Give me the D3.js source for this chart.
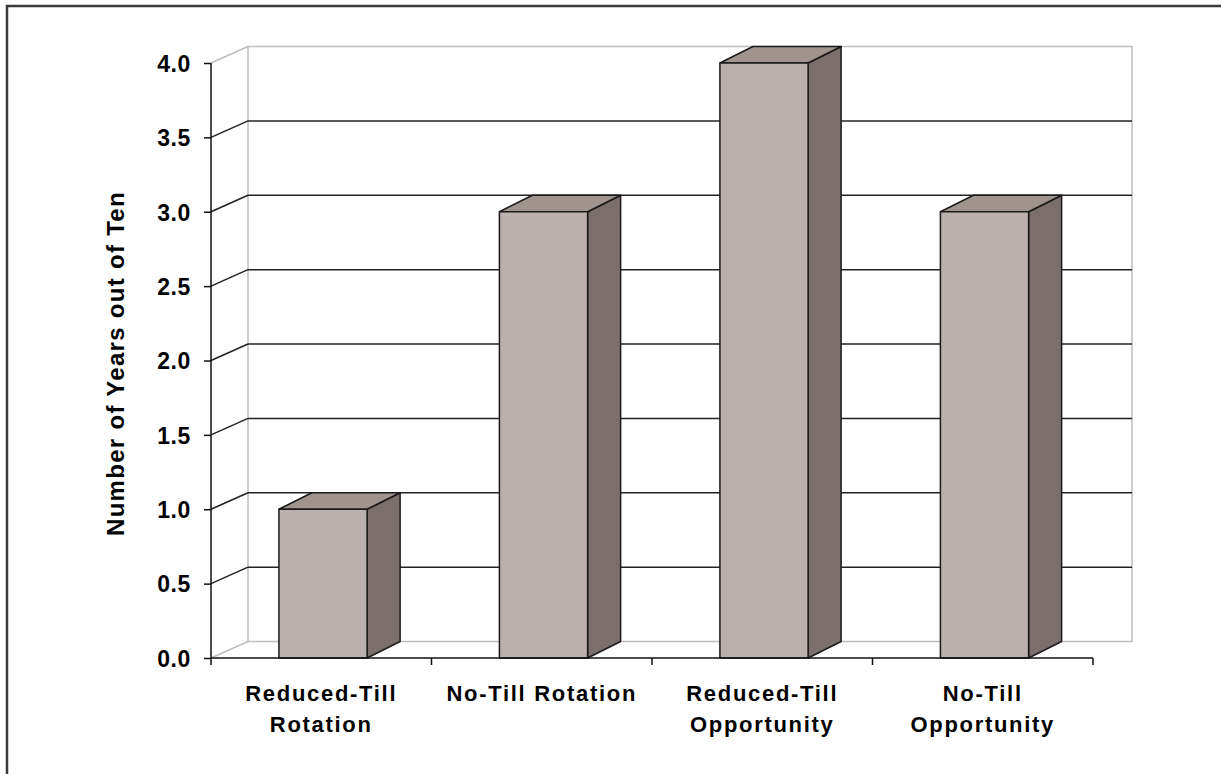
<!DOCTYPE html>
<html><head><meta charset="utf-8">
<script src="https://cdn.jsdelivr.net/npm/d3@7"></script>
<style>body{margin:0;background:#fff}svg{display:block}text{font-family:"Liberation Sans",Arial,sans-serif;font-weight:bold;fill:#000}</style>
</head><body>
<script>
const categories = ["Reduced-Till Rotation", "No-Till Rotation", "Reduced-Till Opportunity", "No-Till Opportunity"];
const categoryLines = [["Reduced-Till", "Rotation"], ["No-Till Rotation"], ["Reduced-Till", "Opportunity"], ["No-Till", "Opportunity"]];
const values = [1, 3, 4, 3];
const yTicks = [0, 0.5, 1, 1.5, 2, 2.5, 3, 3.5, 4];
const yTitle = "Number of Years out of Ten";

const W = 1221, H = 774;
const svg = d3.select("body").append("svg").attr("width", W).attr("height", H);

// outer frame
svg.append("rect").attr("x", 7).attr("y", 6).attr("width", 1240).attr("height", 800)
  .attr("fill", "none").attr("stroke", "#3a3a3a").attr("stroke-width", 2.5);

const y = d3.scaleLinear().domain([0, 4]).range([658, 63]);
const x = d3.scaleBand().domain(categories).range([211, 1093]);
const wallDx = 37, wallDy = -16.5;
const barDx = 33, barDy = -16.5;
const wallRight = x.range()[1] + wallDx + 2;

// back wall
svg.append("rect").attr("x", 211 + wallDx).attr("y", y(4) + wallDy)
  .attr("width", wallRight - (211 + wallDx)).attr("height", y(0) - y(4))
  .attr("fill", "#fff").attr("stroke", "#c0bcbb").attr("stroke-width", 1.5);

// gridlines
yTicks.forEach(t => {
  const grey = (t === 0 || t === 4);
  const col = grey ? "#c0bcbb" : "#222";
  if (!grey) svg.append("line").attr("x1", 211 + wallDx).attr("x2", wallRight)
    .attr("y1", y(t) + wallDy).attr("y2", y(t) + wallDy).attr("stroke", col).attr("stroke-width", 1.5);
  svg.append("line").attr("x1", 211).attr("x2", 211 + wallDx)
    .attr("y1", y(t)).attr("y2", y(t) + wallDy).attr("stroke", col).attr("stroke-width", 1.5);
});

// bars
const bw = x.bandwidth();
values.forEach((v, i) => {
  const c = categories[i];
  const x0 = x(c) + bw * 0.308, w = bw * 0.4;
  const yt = y(v), yb = y(0);
  const g = svg.append("g").attr("stroke", "#1a1a1a").attr("stroke-width", 1.5).attr("stroke-linejoin", "round");
  g.append("path").attr("fill", "#7a6f6d")
    .attr("d", `M${x0 + w},${yb}L${x0 + w + barDx},${yb + barDy}L${x0 + w + barDx},${yt + barDy}L${x0 + w},${yt}Z`);
  g.append("path").attr("fill", "#a0948f")
    .attr("d", `M${x0},${yt}L${x0 + barDx},${yt + barDy}L${x0 + w + barDx},${yt + barDy}L${x0 + w},${yt}Z`);
  g.append("rect").attr("x", x0).attr("y", yt).attr("width", w).attr("height", yb - yt).attr("fill", "#bab0ad");
});

// y axis
const yAxis = svg.append("g").attr("transform", "translate(211,0)")
  .call(d3.axisLeft(y).tickValues(yTicks).tickFormat(d3.format(".1f")).tickSize(7).tickPadding(13));
yAxis.select(".domain").attr("stroke", "#111").attr("stroke-width", 1.5).attr("d", `M0,${y(4)}V${y(0)}`);
yAxis.selectAll(".tick line").attr("stroke", "#111").attr("stroke-width", 1.5);
yAxis.selectAll(".tick text").attr("font-size", 23).attr("dy", "0.36em").style("letter-spacing", "0.6px")
  .attr("font-family", "Liberation Sans, Arial, sans-serif").attr("font-weight", "bold").attr("fill", "#000");

// x axis
const xAxis = svg.append("g").attr("transform", `translate(0,${y(0)})`);
xAxis.append("line").attr("x1", 211).attr("x2", 1093).attr("y1", 0).attr("y2", 0).attr("stroke", "#111").attr("stroke-width", 1.5);
const tickXs = categories.map(c => x(c)).concat([x.range()[1]]);
xAxis.selectAll("line.tk").data(tickXs).enter().append("line").attr("class", "tk")
  .attr("x1", d => d).attr("x2", d => d).attr("y1", 0).attr("y2", 7).attr("stroke", "#111").attr("stroke-width", 1.5);

categoryLines.forEach((lines, i) => {
  const cx = x(categories[i]) + bw / 2;
  lines.forEach((ln, j) => {
    svg.append("text").attr("x", cx).attr("y", 701 + j * 31).attr("text-anchor", "middle")
      .attr("font-size", 22).style("letter-spacing", "1.7px").text(ln);
  });
});

// y title
svg.append("text").attr("transform", `translate(124,${(y(0) + y(4)) / 2 + 3}) rotate(-90)`)
  .attr("text-anchor", "middle").attr("font-size", 24).style("letter-spacing", "1.3px").text(yTitle);
</script>
</body></html>
